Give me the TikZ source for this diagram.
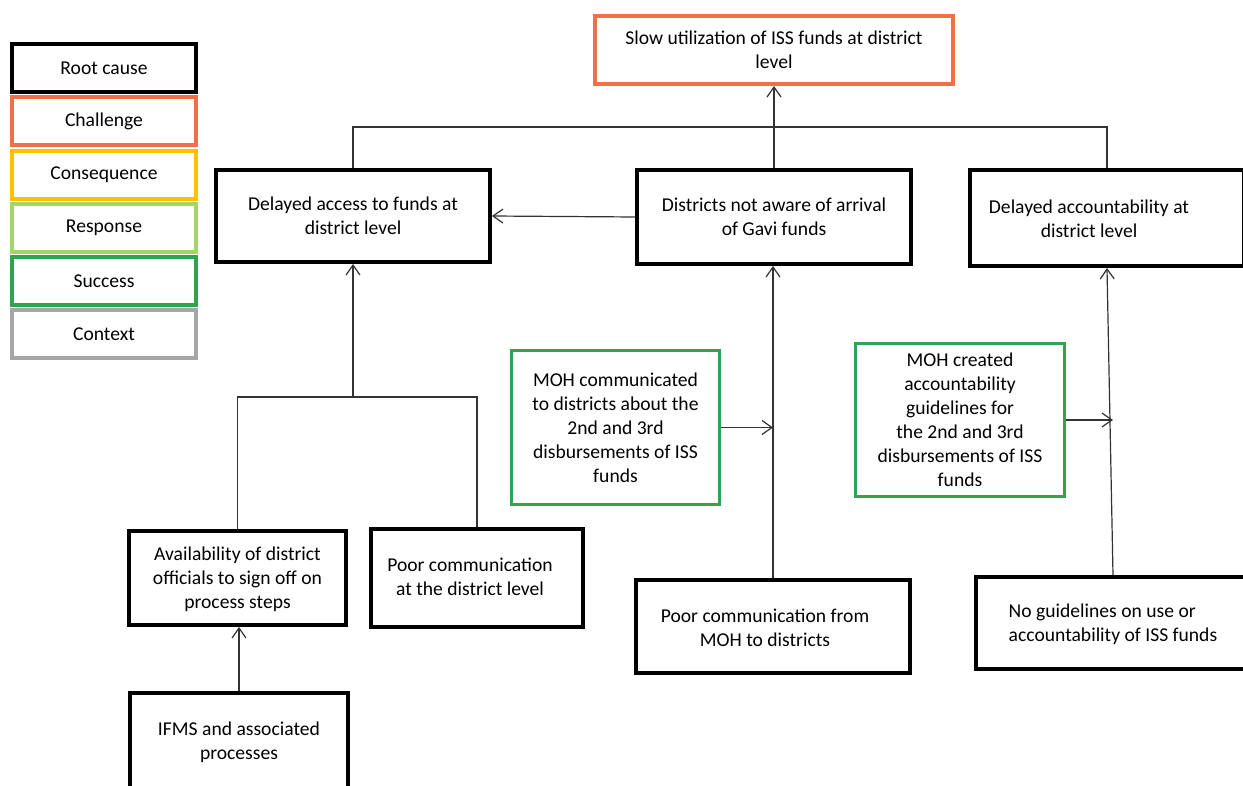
\documentclass[tikz,border=0pt]{standalone}
\usepackage{fontspec}
\setmainfont{Carlito}
\usepackage{tikz}
\usetikzlibrary{arrows.meta}

\definecolor{cOrange}{RGB}{240,112,72}
\definecolor{cGold}{RGB}{255,192,0}
\definecolor{cLime}{RGB}{166,212,106}
\definecolor{cGreen}{RGB}{46,164,80}
\definecolor{cGrey}{RGB}{166,166,166}

\begin{document}
\begin{tikzpicture}[x=0.5pt,y=-0.5pt,>={Straight Barb[length=5pt,width=7pt]},
  every node/.style={font=\fontsize{9.8}{12}\selectfont,align=center},
  box/.style={draw,fill=white,line width=2pt,inner sep=2pt},
  cause/.style={box,draw=black,text depth=0pt},
  challenge/.style={box,draw=cOrange,text depth=0pt},
  success/.style={box,draw=cGreen,line width=1.6pt,text depth=0pt},
  key/.style={box,minimum width=92pt,minimum height=24pt},
  link/.style={draw=black!80,line width=0.6pt}]
\useasboundingbox (0,0) rectangle (1243,786);
\clip (0,0) rectangle (1243,786);

% legend
\foreach \name/\col [count=\i] in {Root cause/black,Challenge/cOrange,Consequence/cGold,Response/cLime,Success/cGreen,Context/cGrey}
  \node[key,draw=\col] (key\i) at (104,14.7+53.3*\i) {\name};

% boxes
\node[challenge,minimum width=179pt,minimum height=34pt] (slow) at (774,50) {Slow utilization of ISS funds at district\\level};
\node[cause,minimum width=137pt,minimum height=46pt] (access) at (353,216) {Delayed access to funds at\\district level};
\node[cause,minimum width=137pt,minimum height=47pt] (aware) at (774,217) {Districts not aware of arrival\\of Gavi funds};
\node[cause,minimum width=137pt,minimum height=48pt] (acct) at (1107,218) {};
\node (acct-text) at (1089,219) {Delayed accountability at\\district level};

\node[success,minimum width=104pt,minimum height=77pt] (mohc) at (615.5,427.5) {MOH communicated\\to districts about the\\2nd and 3rd\\disbursements of ISS\\funds};
\node[success,minimum width=104.5pt,minimum height=76.5pt] (mohg) at (960,420) {MOH created\\accountability\\guidelines for\\the 2nd and 3rd\\disbursements of ISS\\funds};

\node[cause,minimum width=108.5pt,minimum height=47pt] (avail) at (237.5,578) {Availability of district\\officials to sign off on\\process steps};
\node[cause,minimum width=106pt,minimum height=49pt] (poorD) at (477,578) {};
\node (poorD-text) at (470,577) {Poor communication\\at the district level};
\node[cause,minimum width=109pt,minimum height=48pt] (ifms) at (239,741) {IFMS and associated\\processes};
\node[cause,minimum width=137pt,minimum height=46.5pt] (poorM) at (773,626.5) {};
\node (poorM-text) at (765,628) {Poor communication from\\MOH to districts};
\node[cause,minimum width=137pt,minimum height=46pt,align=left] (noguide) at (1113,623) {No guidelines on use or\\accountability of ISS funds};

% connectors
\coordinate (bar) at (774,127);
\coordinate (jl) at (353,397);
\draw[link,->] (aware.north) -- (slow.south);
\draw[link] (access.north) |- (bar) -| (acct.north);
\draw[link,->] (aware.west) -- (access.east);
\draw[link] (avail.north) |- (jl) -| (poorD.north);
\draw[link,->] (jl) -- (access.south);
\draw[link,->] (ifms.north) -- (ifms.north |- avail.south);
\draw[link,->] (poorM.north) -- (poorM.north |- aware.south);
\draw[link,->] (mohc.east) -- (mohc.east -| poorM.north);
\draw[link,->] (noguide.north) -- (acct.south);
\draw[link,->] (mohg.east) -- (mohg.east -| noguide.north);
\end{tikzpicture}
\end{document}
